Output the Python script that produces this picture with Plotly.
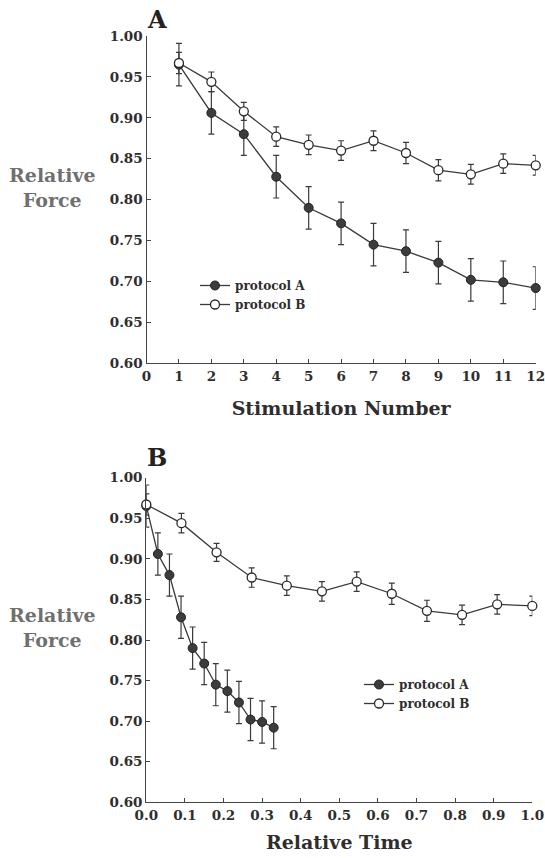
import plotly.graph_objects as go

# ---- data ----
stim_number = [1, 2, 3, 4, 5, 6, 7, 8, 9, 10, 11, 12]
time_protocol_a = [0.0, 0.03, 0.06, 0.09, 0.12, 0.15, 0.18, 0.21, 0.24, 0.27, 0.30, 0.33]
time_protocol_b = [0.0, 0.091, 0.182, 0.273, 0.364, 0.455, 0.545, 0.636, 0.727, 0.818, 0.909, 1.0]

force_a = [0.965, 0.906, 0.880, 0.828, 0.790, 0.771, 0.745, 0.737, 0.723, 0.702, 0.699, 0.692]
err_a = [0.026, 0.026, 0.026, 0.026, 0.026, 0.026, 0.026, 0.026, 0.026, 0.026, 0.026, 0.026]
force_b = [0.967, 0.944, 0.908, 0.877, 0.867, 0.860, 0.872, 0.857, 0.836, 0.831, 0.844, 0.842]
err_b = [0.013, 0.012, 0.011, 0.012, 0.012, 0.012, 0.012, 0.013, 0.013, 0.012, 0.012, 0.012]

y_ticks = [0.60, 0.65, 0.70, 0.75, 0.80, 0.85, 0.90, 0.95, 1.00]
series_names = ["protocol A", "protocol B"]

FONT = "DejaVu Serif"
INK = "#2e2e2e"
W, H = 545, 858


def px_x(p):
    return p / W


def px_y(p):
    return 1 - p / H


fig = go.Figure()


def add_pair(xa, xb, xaxis, yaxis, legend, show):
    fig.add_trace(go.Scatter(
        x=xa, y=force_a, name=series_names[0], mode="lines+markers",
        xaxis=xaxis, yaxis=yaxis, legend=legend, showlegend=show,
        line=dict(color="#3a3a3a", width=1.3),
        marker=dict(symbol="circle", size=9, color="#3c3c3c", line=dict(color="#222", width=1)),
        error_y=dict(type="data", array=err_a, color="#3a3a3a", thickness=1.2, width=3),
        cliponaxis=False,
    ))
    fig.add_trace(go.Scatter(
        x=xb, y=force_b, name=series_names[1], mode="lines+markers",
        xaxis=xaxis, yaxis=yaxis, legend=legend, showlegend=show,
        line=dict(color="#3a3a3a", width=1.3),
        marker=dict(symbol="circle", size=9, color="white", line=dict(color="#2a2a2a", width=1.3)),
        error_y=dict(type="data", array=err_b, color="#3a3a3a", thickness=1.2, width=3),
        cliponaxis=False,
    ))


add_pair(stim_number, stim_number, "x", "y", "legend", True)
add_pair(time_protocol_a, time_protocol_b, "x2", "y2", "legend2", True)

tickfont = dict(family=FONT, size=13.5, color=INK, weight="bold")
axis_common = dict(
    showline=True, linecolor="#444", linewidth=1.3, mirror=False,
    ticks="inside", ticklen=4, tickwidth=1.2, tickcolor="#444",
    showgrid=False, zeroline=False, tickfont=tickfont, ticklabeloverflow="allow",
)

fig.update_layout(
    width=W, height=H,
    margin=dict(l=0, r=0, t=0, b=0, autoexpand=False),
    paper_bgcolor="white", plot_bgcolor="white",
    xaxis=dict(domain=[px_x(146.5), px_x(535.7)], range=[0, 12], dtick=1, tick0=0,
               anchor="y",
               title=dict(text="Stimulation Number", standoff=19,
                          font=dict(family=FONT, size=19, color=INK, weight="bold")),
               **axis_common),
    yaxis=dict(domain=[px_y(363.3), px_y(36)], range=[0.6, 1.0], tickvals=y_ticks,
               tickformat=".2f", anchor="x", **axis_common),
    xaxis2=dict(domain=[px_x(146.3), px_x(532.3)], range=[0, 1.0], dtick=0.1, tick0=0,
                tickformat=".1f", anchor="y2",
                title=dict(text="Relative Time", standoff=14,
                           font=dict(family=FONT, size=19, color=INK, weight="bold")),
                **axis_common),
    yaxis2=dict(domain=[px_y(802.3), px_y(477.7)], range=[0.6, 1.0], tickvals=y_ticks,
                tickformat=".2f", anchor="x2", **axis_common),
    legend=dict(x=px_x(195), y=px_y(271), xanchor="left", yanchor="top",
                bgcolor="rgba(0,0,0,0)", tracegroupgap=0,
                font=dict(family=FONT, size=12, color=INK, weight="bold")),
    legend2=dict(x=px_x(359), y=px_y(670), xanchor="left", yanchor="top",
                 bgcolor="rgba(0,0,0,0)", tracegroupgap=0,
                 font=dict(family=FONT, size=12, color=INK, weight="bold")),
    showlegend=True,
)

annots = [
    dict(text="A", x=px_x(145), y=px_y(20), xanchor="left", yanchor="middle",
         font=dict(family=FONT, size=24, color="#222", weight="bold")),
    dict(text="B", x=px_x(145), y=px_y(457), xanchor="left", yanchor="middle",
         font=dict(family=FONT, size=24, color="#222", weight="bold")),
    dict(text="Relative<br>Force", x=px_x(52), y=px_y(187), xanchor="center", yanchor="middle",
         align="center", font=dict(family=FONT, size=19, color="#707070", weight="bold")),
    dict(text="Relative<br>Force", x=px_x(52), y=px_y(627), xanchor="center", yanchor="middle",
         align="center", font=dict(family=FONT, size=19, color="#707070", weight="bold")),
]
for a in annots:
    a.update(xref="paper", yref="paper", showarrow=False)
fig.update_layout(annotations=annots)

fig.write_html("out.html", config={"displayModeBar": False},
               post_script="document.body.style.margin='0px';document.body.style.overflow='hidden';")
